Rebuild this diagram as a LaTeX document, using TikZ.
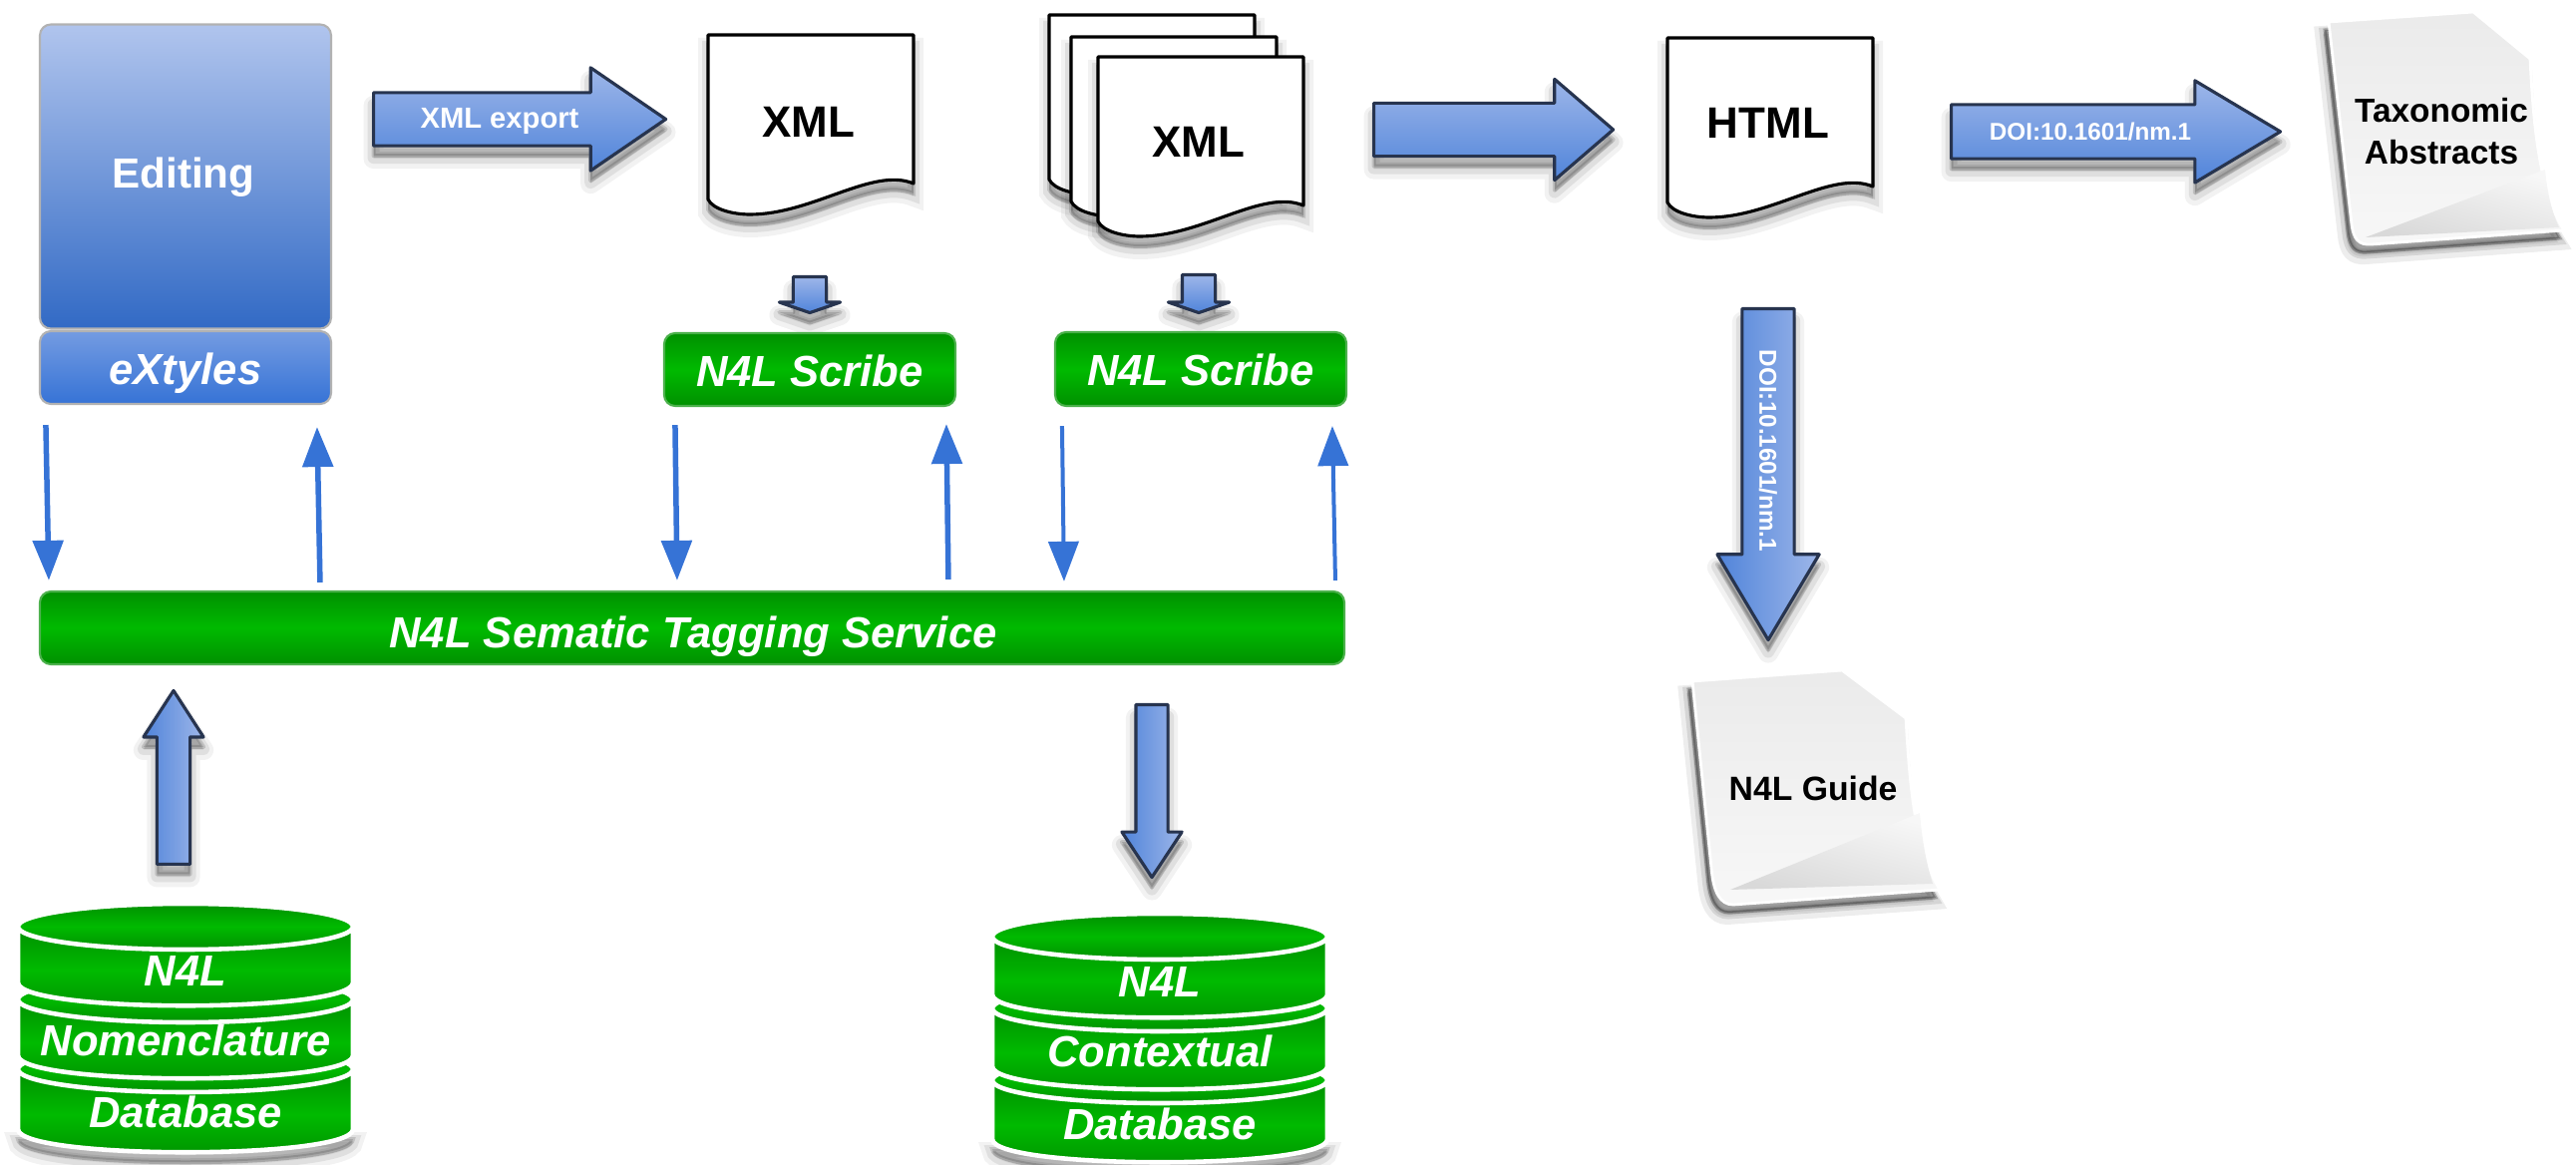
\documentclass[tikz,border=0pt]{standalone}
\usepackage{fontspec}
\setmainfont{Liberation Sans}
\usetikzlibrary{arrows.meta,shapes.arrows,shadows}

\definecolor{flowblue}{HTML}{3673D6}
\definecolor{arrowlight}{HTML}{9DB6E9}
\definecolor{arrowdark}{HTML}{5084DA}
\definecolor{arrowline}{HTML}{27344F}
\definecolor{n4ldark}{HTML}{009000}
\definecolor{n4lbright}{HTML}{00BA00}

\tikzset{
  softshadow/.style={line join=round,
    general shadow={draw=black,fill=black,opacity=.05,line width=.2cm,shadow yshift=-.13cm},
    general shadow={draw=black,fill=black,opacity=.08,line width=.12cm,shadow yshift=-.12cm},
    general shadow={draw=black,fill=black,opacity=.14,line width=.04cm,shadow yshift=-.1cm}},
  papershadow/.style={line join=round,
    general shadow={draw=black,fill=black,opacity=.07,line width=.16cm,shadow xshift=-.06cm,shadow yshift=-.12cm},
    general shadow={draw=black,fill=black,opacity=.1,line width=.09cm,shadow xshift=-.05cm,shadow yshift=-.1cm},
    general shadow={draw=black,fill=black,opacity=.25,line width=.03cm,shadow xshift=-.04cm,shadow yshift=-.08cm}},
  blockarrow/.style n args={4}{single arrow,inner xsep=0pt,inner ysep=(#2-2*#3)*.005cm,anchor=tail,softshadow,
    draw=arrowline,line width=.9pt,text=white,
    minimum height=#1*.01cm,minimum width=#2*.01cm,
    single arrow head extend=#3*.01cm,single arrow tip angle=#4,single arrow head indent=0pt},
  uprightshaft/.style={inner xsep=#1*.005cm,inner ysep=0pt},
  blueshade/.style={top color=arrowlight,bottom color=arrowdark},
  sideshade/.style={left color=arrowdark,right color=arrowlight},
  roundbox/.style={draw=black!30,line width=.6pt,rounded corners=.11cm,text=white,inner sep=0pt,
    text height=.4cm,text depth=.06cm,font=\fontsize{12.4}{15}\selectfont\bfseries},
  greenbox/.style={roundbox,draw=n4ldark!70!white,top color=n4ldark,bottom color=n4ldark,middle color=n4lbright,
    font=\fontsize{12.4}{15}\selectfont\bfseries\itshape},
  flow/.style={draw=flowblue,line width=.055cm,-{Triangle[length=.4cm,width=.3cm]}},
  flowthin/.style={flow,line width=.04cm},
  sheetline/.style={draw=black,fill=white,line width=.9pt,softshadow},
  doclabel/.style={inner sep=0pt,font=\fontsize{12.5}{15}\selectfont\bfseries},
  dbband/.style={draw=white,line width=1.3pt,top color=n4ldark,bottom color=n4ldark,middle color=n4lbright},
  dblabel/.style={inner sep=0pt,text=white,font=\fontsize{12.4}{15}\selectfont\bfseries\itshape},
  paper/.style={draw=white,line width=.8pt,top color=black!8,bottom color=black!3,papershadow},
  foldshade/.style={top color=black!3,bottom color=black!15,shading angle=-15},
  paperlabel/.style={inner sep=0pt,align=center,font=\fontsize{9.6}{11.5}\selectfont\bfseries}
}

% hoja con borde ondulado
\newcommand{\wavysheet}[1]{
  \draw[sheetline,shift={(#1)}] (0,0) -- (206,0) -- (206,149)
    .. controls (165,132) and (105,180) .. (42,180)
    .. controls (25,180) and (5,175) .. (0,165) -- cycle;
}
% disco de la base de datos
\newcommand{\dbdisk}[3]{
  \draw[dbband] (#1-168,#2) -- (#1-168,#3) .. controls (#1-168,#3+31) and (#1+168,#3+31) .. (#1+168,#3)
    -- (#1+168,#2) -- cycle;
  \draw[dbband] (#1,#2) ellipse [x radius=168,y radius=23];
}
% sombra bajo la base de datos
\newcommand{\dbshadow}[2]{
  \path[softshadow,fill=white] (#1-168,#2) -- (#1+168,#2) .. controls (#1+168,#2+31) and (#1-168,#2+31) .. cycle;
}

\begin{document}
\begin{tikzpicture}[x=.01cm,y=-.01cm]
  \useasboundingbox (0,0) rectangle (2583,1168);

  % Editing y eXtyles
  \node[roundbox,top color=arrowlight!80!white,bottom color=flowblue!92!black,
    minimum width=292*.01cm,minimum height=305*.01cm] (editing) at (186,177) {};
  \node[text=white,inner sep=0pt,font=\fontsize{12}{15}\selectfont\bfseries] (editingtxt) at (184,178) {Editing};
  \node[roundbox,top color=arrowlight!60!flowblue,bottom color=flowblue,font=\fontsize{12.4}{15}\selectfont\bfseries\itshape,
    minimum width=292*.01cm,minimum height=73*.01cm] (extyles) at (186,368.5) {eXtyles};

  % Documentos
  \node[blockarrow={293}{100}{25}{68.8},blueshade] (xmlexport) at (373,119.5) {};
  \node[text=white,inner sep=0pt,font=\fontsize{8.3}{10}\selectfont\bfseries] (xmlexporttxt) at (501,122) {XML export};

  \wavysheet{710,35}
  \node[doclabel] (xmlone) at (811,122) {XML};

  \wavysheet{1052,15}
  \wavysheet{1074,37}
  \wavysheet{1101,57}
  \node[doclabel] (xmltwo) at (1202,142) {XML};

  \node[blockarrow={240}{98}{24}{81.4},blueshade] (xmltohtml) at (1376,130) {};

  \wavysheet{1672,38}
  \node[doclabel] (html) at (1773,123) {HTML};

  \node[blockarrow={330}{99}{24}{61.6},blueshade] (doiright) at (1955,132) {};
  \node[text=white,inner sep=0pt,font=\fontsize{6.9}{8}\selectfont\bfseries] (doirighttxt) at (2096,132) {DOI:10.1601/nm.1};

  \node[blockarrow={332}{99}{25}{61.6},uprightshaft=49,sideshade,shape border rotate=270] (doidown) at (1773,308) {};
  \node[rotate=-90,text=white,inner sep=0pt,font=\fontsize{6.9}{8}\selectfont\bfseries] (doidowntxt) at (1773,452) {DOI:10.1601/nm.1};

  % Papeles
  \draw[paper] (2335,22) -- (2480,12) -- (2537,59) .. controls (2540,120) and (2545,190) .. (2571,231)
    -- (2378,245) .. controls (2365,246) and (2360,240) .. (2358,225) -- cycle;
  \shade[foldshade] (2372,238) -- (2552,170) .. controls (2555,200) and (2560,215) .. (2566,228) -- cycle;
  \node[paperlabel,font=\fontsize{9.5}{11.4}\selectfont\bfseries] (taxonomic) at (2448,132) {Taxonomic\\[.02cm]Abstracts};

  \draw[paper] (1697,683) -- (1847,672) -- (1911,720) .. controls (1915,790) and (1920,850) .. (1945,892)
    -- (1738,907) .. controls (1725,907) and (1718,895) .. (1716,870) -- cycle;
  \shade[foldshade] (1735,892) -- (1925,815) .. controls (1928,850) and (1933,870) .. (1938,886) -- cycle;
  \node[paperlabel] (guide) at (1818,790) {N4L Guide};

  % Scribe
  \node[blockarrow={36}{58}{14}{142},uprightshaft=30,blueshade,shape border rotate=270] (xmlscribeone) at (812,276) {};
  \node[blockarrow={38}{58}{14}{142},uprightshaft=30,blueshade,shape border rotate=270] (xmlscribetwo) at (1202,274) {};
  \node[greenbox,minimum width=292*.01cm,minimum height=73*.01cm] (scribeone) at (812,370.5) {N4L Scribe};
  \node[greenbox,minimum width=292*.01cm,minimum height=74*.01cm] (scribetwo) at (1204,370) {N4L Scribe};

  % Servicio
  \node[greenbox,minimum width=1308*.01cm,minimum height=73*.01cm] (service) at (694,629.5) {};
  \node[dblabel] (servicetxt) at (695,638) {N4L Sematic Tagging Service};

  \draw[flow] ([shift={(7,20)}]extyles.south west) -- ([shift={(10,-10)}]service.north west);
  \draw[flow] ([shift={(282,-8)}]service.north west) -- ([shift={(279,22)}]extyles.south west);
  \draw[flow] ([shift={(12,18)}]scribeone.south west) -- ([shift={(640,-10)}]service.north west);
  \draw[flow] ([shift={(912,-11)}]service.north west) -- ([shift={(284,17)}]scribeone.south west);
  \draw[flowthin] ([shift={(8,19)}]scribetwo.south west) -- ([shift={(1028,-9)}]service.north west);
  \draw[flowthin] ([shift={(1300,-10)}]service.north west) -- ([shift={(279,19)}]scribetwo.south west);

  \node[blockarrow={174}{57}{13.5}{65.8},uprightshaft=30,sideshade,shape border rotate=90] (nomenup) at (174,868) {};
  \node[blockarrow={173}{57}{14}{67},uprightshaft=29,sideshade,shape border rotate=270] (contextdown) at (1155,705) {};

  % Bases de datos
  \dbshadow{186}{1132}
  \dbshadow{1163}{1142}
  \dbdisk{186}{1072}{1132}
  \dbdisk{186}{1002}{1058}
  \dbdisk{186}{929}{985}
  \node[dblabel] (nomenone) at (186,973) {N4L};
  \node[dblabel] (nomentwo) at (186,1043) {Nomenclature};
  \node[dblabel] (nomenthree) at (186,1115) {Database};

  \dbdisk{1163}{1083}{1142}
  \dbdisk{1163}{1011}{1069}
  \dbdisk{1163}{939}{997}
  \node[dblabel] (contextone) at (1163,984) {N4L};
  \node[dblabel] (contexttwo) at (1163,1054) {Contextual};
  \node[dblabel] (contextthree) at (1163,1127) {Database};
\end{tikzpicture}
\end{document}
